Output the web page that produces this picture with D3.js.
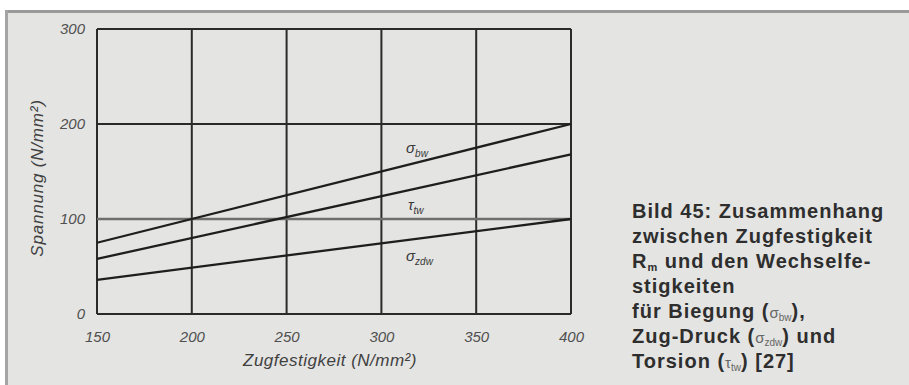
<!DOCTYPE html>
<html><head><meta charset="utf-8">
<script src="https://cdn.jsdelivr.net/npm/d3@7"></script>
<style>body{margin:0;background:#fff}svg{display:block}</style>
</head><body>
<script>
// ---- data ----
const xTicks = [150, 200, 250, 300, 350, 400];
const yTicks = [0, 100, 200, 300];
const xDomain = [150, 400];
const yDomain = [0, 300];
const seriesX = [150, 400];
const sigmaBw = [75, 200];
const tauTw = [58, 168];
const sigmaZdw = [36, 100];
const seriesLabels = [
  {sym: "σ", sub: "bw", at: [313, 170]},
  {sym: "τ", sub: "tw", at: [314, 110]},
  {sym: "σ", sub: "zdw", at: [313, 56]}
];
const xTitle = "Zugfestigkeit (N/mm²)";
const yTitle = "Spannung (N/mm²)";
const captionLines = [
  [{t: "Bild 45: Zusammenhang"}],
  [{t: "zwischen Zugfestigkeit"}],
  [{t: "R"}, {t: "m", sub: true}, {t: " und den Wechselfe-"}],
  [{t: "stigkeiten"}],
  [{t: "für Biegung ("}, {t: "σ", sym: true}, {t: "bw", sym: true, sub: true}, {t: "),"}],
  [{t: "Zug-Druck ("}, {t: "σ", sym: true}, {t: "zdw", sym: true, sub: true}, {t: ") und"}],
  [{t: "Torsion ("}, {t: "τ", sym: true}, {t: "tw", sym: true, sub: true}, {t: ") [27]"}]
];

const W = 909, H = 385;
const svg = d3.select("body").append("svg").attr("width", W).attr("height", H);

// page background + frame
svg.append("rect").attr("x", 0).attr("y", 0).attr("width", W).attr("height", H).attr("fill", "#fff");
svg.append("rect").attr("x", 7).attr("y", 11).attr("width", W - 7).attr("height", H - 11).attr("fill", "#e4e4e2");
svg.append("line").attr("x1", 5).attr("x2", W).attr("y1", 11.5).attr("y2", 11.5).attr("stroke", "#9a9a9a").attr("stroke-width", 3);
svg.append("line").attr("x1", 6.5).attr("x2", 6.5).attr("y1", 10).attr("y2", H).attr("stroke", "#a4a4a4").attr("stroke-width", 3);

const m = {l: 97, r: 571, t: 29, b: 314};
const x = d3.scaleLinear().domain(xDomain).range([m.l, m.r]);
const y = d3.scaleLinear().domain(yDomain).range([m.b, m.t]);

const ink = "#2a2a2a";
// grid
const g = svg.append("g");
xTicks.forEach(v => {
  g.append("line").attr("x1", x(v)).attr("x2", x(v)).attr("y1", y(300)).attr("y2", y(0))
    .attr("stroke", ink).attr("stroke-width", 2);
});
yTicks.forEach(v => {
  g.append("line").attr("x1", x(150)).attr("x2", x(400)).attr("y1", y(v)).attr("y2", y(v))
    .attr("stroke", v === 100 ? "#6e6e6e" : ink).attr("stroke-width", v === 100 ? 2.6 : 2);
});

// axes (labels only)
const xAxis = d3.axisBottom(x).tickValues(xTicks).tickSize(0).tickPadding(0);
const ax = svg.append("g").attr("transform", `translate(0,${y(0) + 28})`).call(xAxis);
ax.select(".domain").remove();
ax.selectAll("text").attr("dy", 0).attr("font-family", "Liberation Sans, Arial, sans-serif")
  .attr("font-style", "italic").attr("font-size", 15).attr("fill", "#505050");
const yAxis = d3.axisLeft(y).tickValues(yTicks).tickSize(0).tickPadding(0);
const ay = svg.append("g").attr("transform", `translate(${m.l - 12},0)`).call(yAxis);
ay.select(".domain").remove();
ay.selectAll("text").attr("font-family", "Liberation Sans, Arial, sans-serif")
  .attr("font-style", "italic").attr("font-size", 15).attr("fill", "#505050");

// series lines
const line = d3.line().x((d, i) => x(seriesX[i])).y(d => y(d));
[sigmaBw, tauTw, sigmaZdw].forEach(s => {
  svg.append("path").attr("d", line(s)).attr("fill", "none").attr("stroke", "#1e1e1e").attr("stroke-width", 2.3);
});

// series labels
seriesLabels.forEach(l => {
  const t = svg.append("text").attr("x", x(l.at[0])).attr("y", y(l.at[1]))
    .attr("font-family", "Liberation Sans, Arial, sans-serif").attr("font-style", "italic")
    .attr("font-size", 15).attr("fill", "#383838");
  t.append("tspan").text(l.sym);
  t.append("tspan").attr("font-size", 10).attr("dy", 4).text(l.sub);
});

// axis titles
svg.append("text").attr("x", 330).attr("y", 366).attr("text-anchor", "middle")
  .attr("font-family", "Liberation Sans, Arial, sans-serif").attr("font-style", "italic")
  .attr("font-size", 17).attr("letter-spacing", 0.5).attr("fill", "#404040").text(xTitle);
svg.append("text").attr("transform", `translate(43,178) rotate(-90)`).attr("text-anchor", "middle")
  .attr("font-family", "Liberation Sans, Arial, sans-serif").attr("font-style", "italic")
  .attr("font-size", 17).attr("letter-spacing", 0.8).attr("fill", "#404040").text(yTitle);

// caption
const baselines = [218, 243, 268, 293, 318, 343, 368];
captionLines.forEach((parts, i) => {
  const t = svg.append("text").attr("x", 632).attr("y", baselines[i])
    .attr("font-family", "Liberation Sans, Arial, sans-serif").attr("font-weight", "bold")
    .attr("font-size", 20).attr("letter-spacing", 1).attr("fill", "#2e2e2e");
  parts.forEach((p, j) => {
    const s = t.append("tspan").text(p.t);
    if (p.sym) s.attr("font-weight", "normal").attr("fill", "#666").attr("font-size", p.sub ? 10 : 15).attr("letter-spacing", 0);
    else if (p.sub) s.attr("font-size", 11);
    if (p.sub) s.attr("dy", 3);
    else if (j > 0 && parts[j - 1].sub) s.attr("dy", -3);
  });
});
</script>
</body></html>
